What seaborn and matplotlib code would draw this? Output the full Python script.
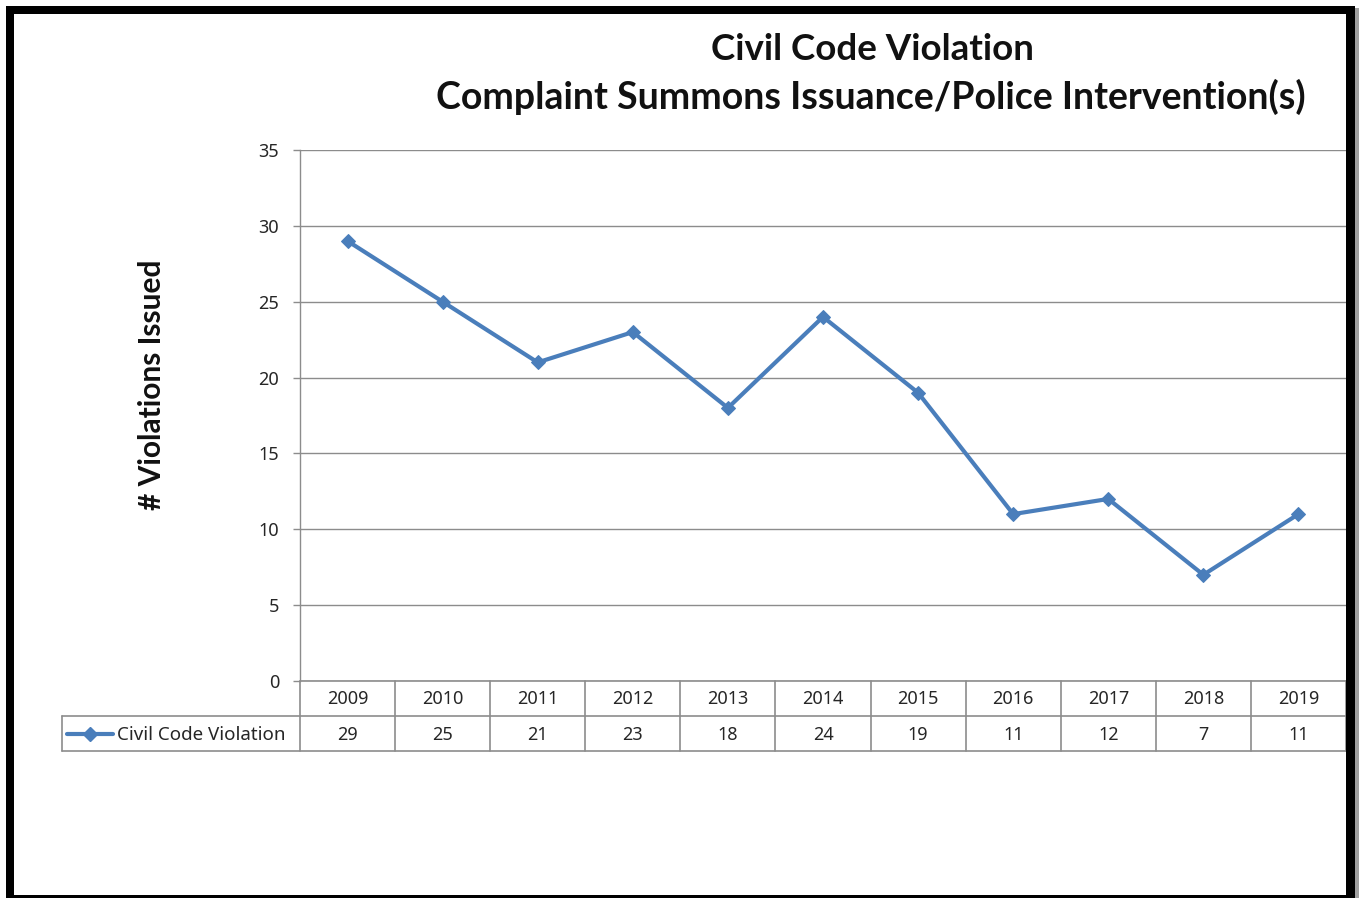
import matplotlib
matplotlib.use("Agg")
import matplotlib.pyplot as plt
import matplotlib.transforms as mtransforms
from matplotlib.patches import Rectangle
from matplotlib.lines import Line2D
import seaborn as sns
import pandas as pd

# ---- data ----
years = ["2009", "2010", "2011", "2012", "2013", "2014", "2015", "2016", "2017", "2018", "2019"]
violations = [29, 25, 21, 23, 18, 24, 19, 11, 12, 7, 11]
series_name = "Civil Code Violation"
title_lines = ["Civil Code Violation", "Complaint Summons Issuance/Police Intervention(s)"]
y_label = "# Violations Issued"
y_ticks = [0, 5, 10, 15, 20, 25, 30, 35]

sns.set_style("white")
plt.rcParams["font.family"] = ["Noto Sans", "DejaVu Sans"]
bold_family = ["Lato", "DejaVu Sans"]

W, H = 1360, 898
fig = plt.figure(figsize=(W / 100, H / 100), dpi=100)

# axes placement (pixels)
ax_l, ax_r, ax_t, ax_b = 300, 1346, 150, 681
ax = fig.add_axes([ax_l / W, 1 - ax_b / H, (ax_r - ax_l) / W, (ax_b - ax_t) / H])

line_color = "#4A7EBB"
grid_color = "#8C8C8C"
text_color = "#262626"

df = pd.DataFrame({"x": range(len(years)), "y": violations})
sns.lineplot(data=df, x="x", y="y", ax=ax, color=line_color, linewidth=3.0,
             marker="D", markersize=7.5, markeredgecolor=line_color, zorder=5)

ax.set_xlim(-0.5, len(years) - 0.5)
ax.set_ylim(0, 35)
ax.set_yticks(y_ticks)
ax.set_yticklabels([str(t) for t in y_ticks])
ax.set_xticks([])
ax.set_xlabel("")
ax.set_ylabel("")
ax.tick_params(axis="y", length=5, width=1, color=grid_color, pad=10,
               labelsize=13, labelcolor=text_color, left=True)
ax.yaxis.grid(True, color=grid_color, linewidth=1.0)
ax.xaxis.grid(False)
for s in ["top", "right", "bottom"]:
    ax.spines[s].set_visible(False)
ax.spines["left"].set_color(grid_color)
ax.spines["left"].set_linewidth(1.0)

# ---- data table under the axis ----
plot_h = ax_b - ax_t
px_per_unit = (ax_r - ax_l) / len(years)


def px_x(px):
    return -0.5 + (px - ax_l) / px_per_unit


def px_y(px_below):
    return -px_below / plot_h


trans = mtransforms.blended_transform_factory(ax.transData, ax.transAxes)
row_h = 35
legend_left = px_x(62)
x_right = len(years) - 0.5

def hline(y, x0, x1):
    ax.add_line(Line2D([x0, x1], [y, y], transform=trans, color=grid_color,
                       linewidth=1.2, clip_on=False))

def vline(x, y0, y1):
    ax.add_line(Line2D([x, x], [y0, y1], transform=trans, color=grid_color,
                       linewidth=1.2, clip_on=False))

hline(0, -0.5, x_right)
hline(px_y(row_h), legend_left, x_right)
hline(px_y(2 * row_h), legend_left, x_right)
for i in range(len(years) + 1):
    vline(i - 0.5, 0, px_y(2 * row_h))
vline(legend_left, px_y(row_h), px_y(2 * row_h))

for i, (yr, v) in enumerate(zip(years, violations)):
    ax.text(i, px_y(row_h / 2 + 1), yr, transform=trans, ha="center", va="center",
            fontsize=13, color=text_color, clip_on=False)
    ax.text(i, px_y(row_h * 1.5 + 1), str(v), transform=trans, ha="center", va="center",
            fontsize=13, color=text_color, clip_on=False)

# legend key in the table
ax.add_line(Line2D([px_x(67), px_x(113)], [px_y(row_h * 1.5)] * 2, transform=trans,
                   color=line_color, linewidth=3.0, clip_on=False))
ax.add_line(Line2D([px_x(90)], [px_y(row_h * 1.5)], transform=trans, marker="D",
                   markersize=7.5, color=line_color, linestyle="none", clip_on=False))
ax.text(px_x(117), px_y(row_h * 1.5 + 1), series_name, transform=trans, ha="left",
        va="center", fontsize=13.5, color=text_color, clip_on=False)

# ---- titles ----
fig.text(872 / W, 1 - 49 / H, title_lines[0], ha="center", va="center",
         fontsize=26.5, fontweight="bold", family=bold_family, color="#111111")
fig.text(871 / W, 1 - 97 / H, title_lines[1], ha="center", va="center",
         fontsize=27, fontweight="bold", family=bold_family, color="#111111")
fig.text(152 / W, 1 - 385 / H, y_label, ha="center", va="center", rotation=90,
         fontsize=21.5, fontweight="bold", family=bold_family, color="#111111")

# ---- black frame ----
def rect_px(x0, y0, x1, y1, color):
    fig.add_artist(Rectangle((x0 / W, 1 - y1 / H), (x1 - x0) / W, (y1 - y0) / H,
                             transform=fig.transFigure, facecolor=color,
                             edgecolor="none", zorder=10))

rect_px(1355, 8, 1359, H, "#A0A0A0")   # shadow
rect_px(6, 6, 14, H, "black")           # left
rect_px(6, 6, 1355, 14, "black")        # top
rect_px(1346, 6, 1355, H, "black")      # right
rect_px(6, 895, 1355, H, "black")       # bottom

fig.savefig("out.png", dpi=100)
